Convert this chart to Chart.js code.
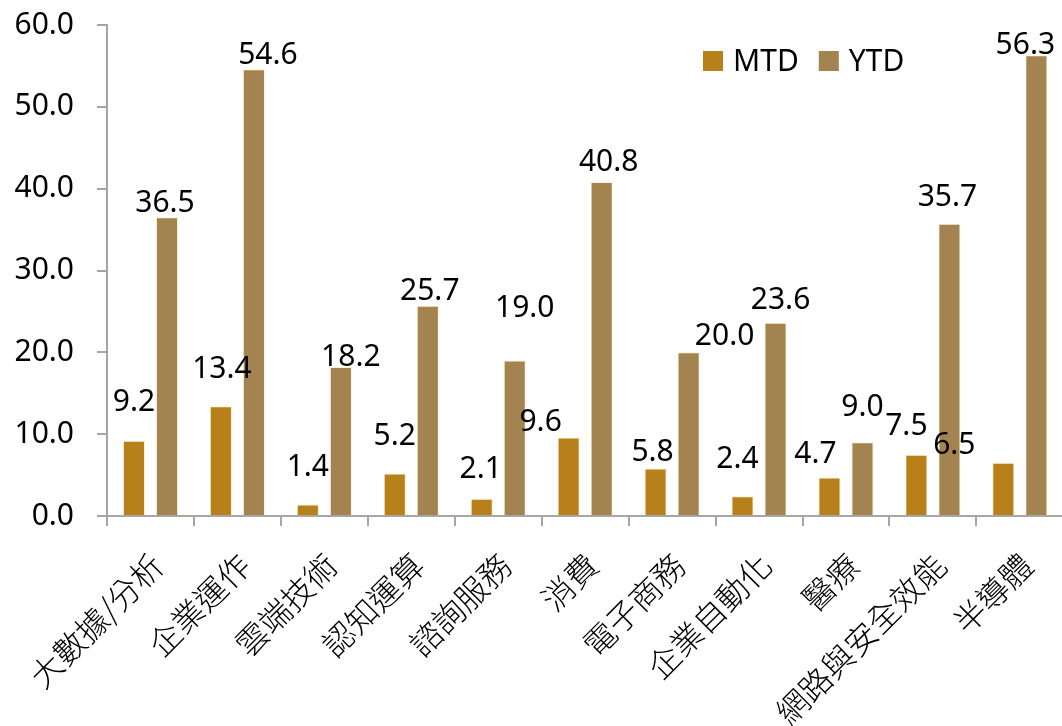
<!DOCTYPE html>
<html><head><meta charset="utf-8">
<script src="https://cdn.jsdelivr.net/npm/chart.js@4/dist/chart.umd.min.js"></script>
<style>
html,body{margin:0;padding:0;background:#fff;overflow:hidden;width:1062px;height:726px;position:relative;}
#wrap{position:absolute;left:0;top:-16px;width:1067px;height:742px;}
</style></head><body>
<div id="wrap"><canvas id="c"></canvas></div>
<script>
const categories = ['大數據/分析','企業運作','雲端技術','認知運算','諮詢服務','消費','電子商務','企業自動化','醫療','網路與安全效能','半導體'];
const seriesNames = ['MTD','YTD'];
const mtdValues = [9.2,13.4,1.4,5.2,2.1,9.6,5.8,2.4,4.7,7.5,6.5];
const ytdValues = [36.5,54.6,18.2,25.7,19.0,40.8,20.0,23.6,9.0,35.7,56.3];
const yTickValues = [0,10,20,30,40,50,60];

// data-label nudges relative to each bar top (px): [dx, rise]
const mtdLabelShift = [[0,38],[1,37],[0,37],[0,37],[-1,29],[-28,15],[-3,16],[-5,37],[-14,23],[-10,28],[-49,17]];
const ytdLabelShift = [[-2,14],[14,14],[10,10],[2,14],[10,52],[7,20],[36,16],[5,22],[0,35],[-2,26],[-11,10]];

const FONT = '"Noto Sans", "Noto Sans CJK TC", sans-serif';
const CJK = '"Noto Sans CJK TC", "Noto Sans", sans-serif';
const colors = ['#B8801A','#A3834F'];

const dataLabels = {
  id:'dataLabels',
  afterDatasetsDraw(chart){
    const ctx = chart.ctx;
    ctx.save();
    ctx.font = '30px ' + FONT;
    ctx.fillStyle = '#000';
    ctx.textAlign = 'center';
    ctx.textBaseline = 'middle';
    const shifts = [mtdLabelShift, ytdLabelShift];
    chart.data.datasets.forEach((ds, di) => {
      chart.getDatasetMeta(di).data.forEach((bar, i) => {
        const s = shifts[di][i];
        ctx.fillText(ds.data[i].toFixed(1), bar.x + s[0], bar.y - s[1]);
      });
    });
    ctx.restore();
  }
};

const innerLegend = {
  id:'innerLegend',
  afterDraw(chart){
    const ctx = chart.ctx;
    ctx.save();
    ctx.font = '30px ' + FONT;
    ctx.textBaseline = 'middle';
    ctx.textAlign = 'left';
    let x = 703; const y = chart.chartArea.top + 36;
    chart.data.datasets.forEach(ds => {
      ctx.fillStyle = ds.backgroundColor;
      ctx.fillRect(x, y - 10, 20, 20);
      ctx.fillStyle = '#000';
      ctx.fillText(ds.label, x + 30, y + 1);
      x += 30 + ctx.measureText(ds.label).width + 20;
    });
    ctx.restore();
  }
};

new Chart(document.getElementById('c'), {
  type:'bar',
  data:{
    labels: categories,
    datasets:[
      {label: seriesNames[0], data: mtdValues, backgroundColor: colors[0], borderColor:'rgba(255,235,190,0.7)', borderWidth:1,
       categoryPercentage:0.76, barPercentage:0.67},
      {label: seriesNames[1], data: ytdValues, backgroundColor: colors[1], borderColor:'rgba(255,235,190,0.7)', borderWidth:1,
       categoryPercentage:0.76, barPercentage:0.67}
    ]
  },
  options:{
    responsive:true, maintainAspectRatio:false, animation:false,
    layout:{padding:{top:8,left:0,right:0,bottom:0}},
    plugins:{legend:{display:false}, tooltip:{enabled:false}},
    scales:{
      x:{
        grid:{drawOnChartArea:false, drawTicks:true, tickLength:10, color:'#A6A6A6', lineWidth:2, offset:true},
        border:{color:'#A6A6A6', width:2},
        ticks:{font:{size:32, family:CJK, weight:300}, color:'#000', maxRotation:45, minRotation:45, padding:20, labelOffset:7, autoSkip:false},
        afterFit(s){ s.height = 210; }
      },
      y:{
        min:0, max:60,
        afterBuildTicks(s){ s.ticks = yTickValues.map(v => ({value:v})); },
        grid:{drawOnChartArea:false, drawTicks:true, tickLength:10, color:'#A6A6A6', lineWidth:2},
        border:{color:'#A6A6A6', width:2},
        ticks:{font:{size:30, family:FONT}, color:'#000', padding:23, callback:v => Number(v).toFixed(1)},
        afterFit(s){ s.width = 107; }
      }
    }
  },
  plugins:[dataLabels, innerLegend]
});
</script>
</body></html>
